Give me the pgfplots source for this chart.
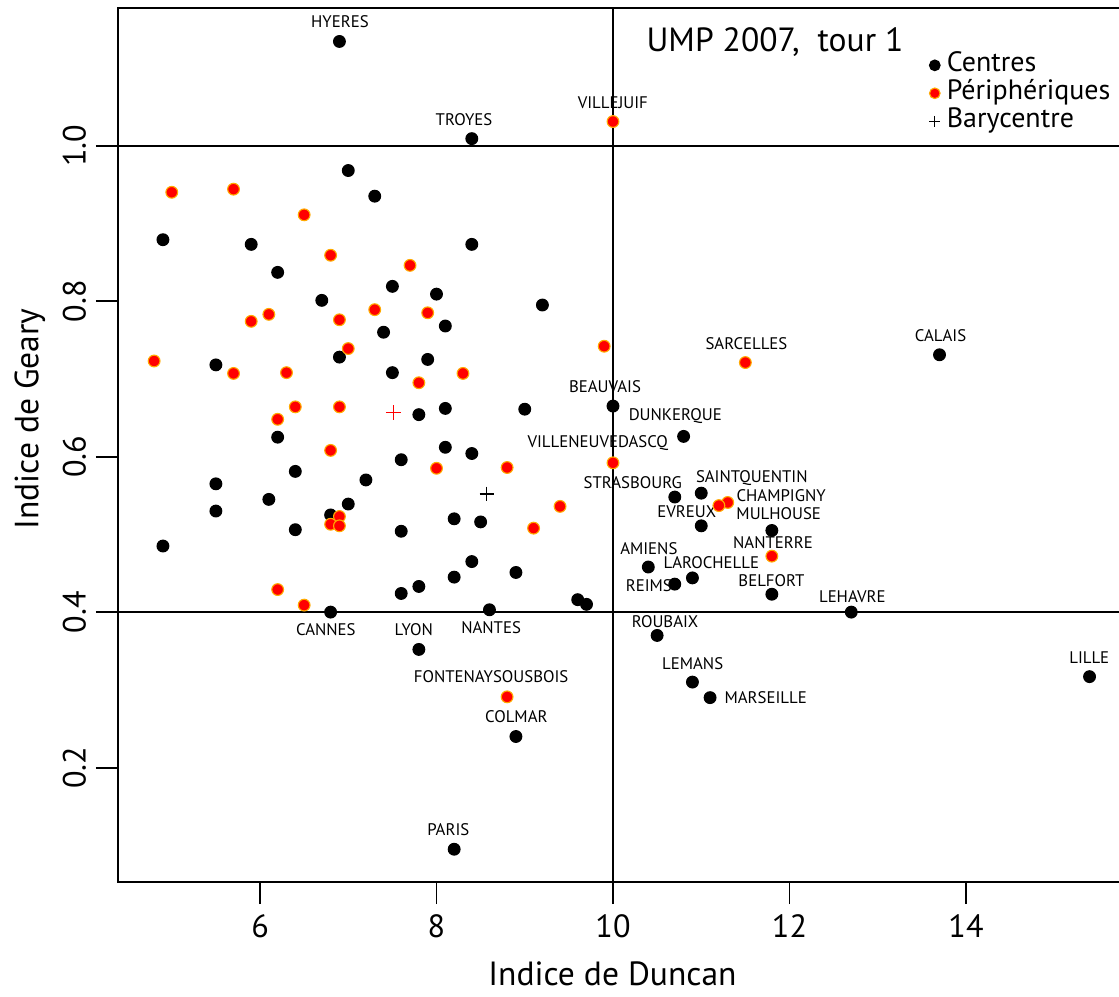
\documentclass[border=0pt]{standalone}
\usepackage{fontspec}
\setmainfont{PT Sans}
\usepackage{pgfplots}
\usepackage{pgfplotstable}
\pgfplotsset{compat=1.18}
\definecolor{perfill}{RGB}{255,0,0}
\definecolor{peredge}{RGB}{255,170,0}
\newcommand{\cityfont}{\fontsize{6}{7}\selectfont}

\pgfplotstableread{
x y
6.9 1.134
8.4 1.009
7.0 0.968
7.3 0.935
4.9 0.879
5.9 0.873
8.4 0.873
6.2 0.837
7.5 0.819
8.0 0.809
6.7 0.801
8.1 0.768
7.4 0.760
9.2 0.795
5.5 0.718
6.9 0.728
7.9 0.725
7.5 0.708
7.8 0.654
8.1 0.662
9.0 0.661
6.2 0.625
8.1 0.612
8.4 0.604
7.6 0.596
6.4 0.581
7.2 0.570
5.5 0.565
6.1 0.545
7.0 0.539
5.5 0.530
6.8 0.525
8.2 0.520
8.5 0.516
6.4 0.506
7.6 0.504
4.9 0.485
8.4 0.465
8.2 0.445
8.9 0.451
7.8 0.433
7.6 0.424
9.6 0.416
9.7 0.410
6.8 0.400
8.6 0.403
7.8 0.352
8.9 0.240
8.2 0.095
10.0 0.665
10.8 0.626
10.7 0.548
11.0 0.553
11.0 0.511
11.8 0.505
10.4 0.458
10.9 0.444
10.7 0.436
11.8 0.423
12.7 0.400
10.5 0.370
10.9 0.310
11.1 0.290
15.4 0.317
13.7 0.731
}\centres

\pgfplotstableread{
x y
10.0 1.031
5.0 0.940
5.7 0.944
6.5 0.911
6.8 0.859
7.7 0.846
7.3 0.789
7.9 0.785
5.9 0.774
6.1 0.783
6.9 0.776
4.8 0.723
5.7 0.707
6.3 0.708
7.0 0.739
7.8 0.695
8.3 0.707
6.4 0.664
6.9 0.664
6.2 0.648
6.8 0.608
8.0 0.585
6.9 0.523
6.8 0.513
6.9 0.511
6.2 0.429
6.5 0.409
9.9 0.742
11.5 0.721
10.0 0.592
8.8 0.586
11.3 0.541
11.2 0.537
9.4 0.536
9.1 0.508
11.8 0.472
8.8 0.291
}\peripheriques

\begin{document}
\begin{tikzpicture}
\begin{axis}[
  name=ax,
  scale only axis,
  width=357.9pt, height=312.5pt,
  xmin=4.391, xmax=15.734, ymin=0.0527, ymax=1.1769,
  axis line style={draw=none},
  xtick={6,8,10,12,14}, xticklabels={6,8,10,12,14},
  ytick={0.2,0.4,0.6,0.8,1.0}, yticklabels={0.2,0.4,0.6,0.8,1.0},
  xtick pos=left, ytick pos=left, tick align=outside,
  major tick length=7.9pt,
  tick style={black, line width=0.7pt},
  tick label style={font=\fontsize{11.5}{12}\selectfont},
  /pgf/number format/assume math mode=true,
  yticklabel style={rotate=90, anchor=south},
  xlabel={Indice de Duncan}, ylabel={Indice de Geary},
  label style={font=\fontsize{12}{14}\selectfont},
  xlabel style={at={(axis description cs:0.494,-0.118)}, anchor=base},
  ylabel style={at={(axis description cs:-0.088,0.53)}, anchor=center},
  clip=false,
  legend cell align=left,
  legend style={draw=none, fill=none, at={(axis cs:13.58,1.122)}, anchor=north west,
    font=\fontsize{10}{10}\selectfont, inner sep=0pt, row sep=0pt,
    nodes={inner ysep=0.3pt, inner xsep=2.4pt, text height=7pt, text depth=2.4pt}},
  legend image code/.code={\draw[#1, mark size=1.9pt] plot coordinates {(0cm,0cm)};},
]
\draw[line width=0.75pt] (rel axis cs:1,1) -- (rel axis cs:0,1) -- (rel axis cs:0,0) -- (rel axis cs:1,0);
\draw[line width=0.75pt] (axis cs:4.391,1.0) -- (axis cs:15.734,1.0);
\draw[line width=0.75pt] (axis cs:4.391,0.4) -- (axis cs:15.734,0.4);
\draw[line width=0.75pt] (axis cs:10,0.0527) -- (axis cs:10,1.1769);

\addplot[only marks, mark=*, mark size=2.1pt, mark options={fill=black, draw=black}] table[x=x,y=y] {\centres};
\addlegendentry{Centres}
\addplot[only marks, mark=*, mark size=2.1pt, mark options={fill=perfill, draw=peredge, line width=0.4pt}] table[x=x,y=y] {\peripheriques};
\addlegendentry{Périphériques}
\addplot[only marks, mark=+, mark size=2.6pt, mark options={black, line width=0.45pt}] coordinates {(8.57,0.552)};
\addlegendentry{Barycentre}
\addplot[only marks, mark=+, mark size=2.6pt, mark options={red, line width=0.45pt}, forget plot] coordinates {(7.51,0.657)};

\node[font=\fontsize{12}{14}\selectfont] at (axis cs:11.836,1.133) {UMP 2007,\ \ tour 1};

\node[font=\cityfont] at (axis cs:6.906,1.159) {HYERES};
\node[font=\cityfont] at (axis cs:8.312,1.034) {TROYES};
\node[font=\cityfont] at (axis cs:9.998,1.055) {VILLEJUIF};
\node[font=\cityfont] at (axis cs:11.512,0.745) {SARCELLES};
\node[font=\cityfont] at (axis cs:13.712,0.755) {CALAIS};
\node[font=\cityfont] at (axis cs:9.909,0.690) {BEAUVAIS};
\node[font=\cityfont] at (axis cs:10.706,0.652) {DUNKERQUE};
\node[font=\cityfont] at (axis cs:9.827,0.617) {VILLENEUVEDASCQ};
\node[font=\cityfont] at (axis cs:10.224,0.566) {STRASBOURG};
\node[font=\cityfont] at (axis cs:11.573,0.573) {SAINTQUENTIN};
\node[font=\cityfont] at (axis cs:11.906,0.550) {CHAMPIGNY};
\node[font=\cityfont] at (axis cs:10.836,0.529) {EVREUX};
\node[font=\cityfont] at (axis cs:11.878,0.527) {MULHOUSE};
\node[font=\cityfont] at (axis cs:11.813,0.489) {NANTERRE};
\node[font=\cityfont] at (axis cs:10.406,0.482) {AMIENS};
\node[font=\cityfont] at (axis cs:11.114,0.464) {LAROCHELLE};
\node[font=\cityfont] at (axis cs:10.406,0.434) {REIMS};
\node[font=\cityfont] at (axis cs:11.795,0.441) {BELFORT};
\node[font=\cityfont] at (axis cs:12.712,0.420) {LEHAVRE};
\node[font=\cityfont] at (axis cs:10.590,0.388) {ROUBAIX};
\node[font=\cityfont] at (axis cs:8.619,0.380) {NANTES};
\node[font=\cityfont] at (axis cs:6.746,0.378) {CANNES};
\node[font=\cityfont] at (axis cs:7.743,0.378) {LYON};
\node[font=\cityfont] at (axis cs:8.619,0.317) {FONTENAYSOUSBOIS};
\node[font=\cityfont] at (axis cs:8.905,0.265) {COLMAR};
\node[font=\cityfont] at (axis cs:8.134,0.120) {PARIS};
\node[font=\cityfont] at (axis cs:10.903,0.334) {LEMANS};
\node[font=\cityfont] at (axis cs:11.730,0.290) {MARSEILLE};
\node[font=\cityfont] at (axis cs:15.397,0.342) {LILLE};
\end{axis}
\pgfresetboundingbox
\path ([shift={(-42.2pt,-40.8pt)}]ax.south west) rectangle ([shift={(0pt,2.9pt)}]ax.north east);
\end{tikzpicture}
\end{document}
